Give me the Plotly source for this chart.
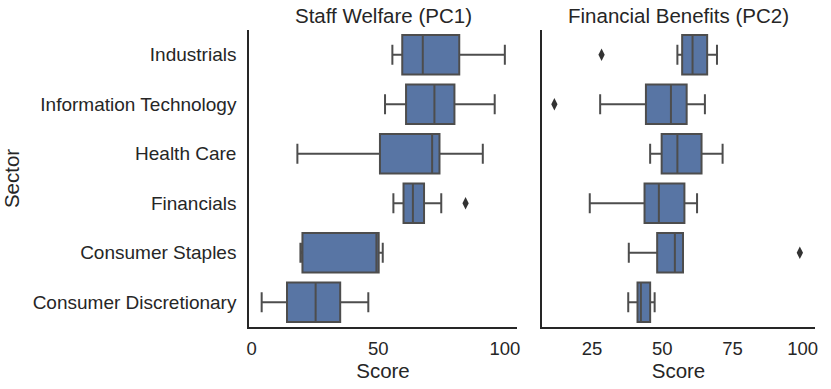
import plotly.graph_objects as go
from plotly.subplots import make_subplots

sectors = ['Industrials', 'Information Technology', 'Health Care', 'Financials',
           'Consumer Staples', 'Consumer Discretionary']

# Staff Welfare (PC1)
pc1_low = [55.6, 52.7, 18.1, 56.0, 19.3, 4.0]
pc1_q1 = [59.5, 61.0, 50.7, 60.0, 20.1, 14.0]
pc1_med = [67.6, 72.2, 71.3, 63.7, 49.3, 25.3]
pc1_q3 = [82.0, 80.1, 74.2, 68.1, 50.2, 35.0]
pc1_high = [100.0, 96.0, 91.3, 74.9, 51.8, 46.1]
pc1_out_sector = ['Financials']
pc1_out_value = [84.5]

# Financial Benefits (PC2)
pc2_low = [55.4, 27.9, 45.7, 24.2, 38.1, 37.9]
pc2_q1 = [57.1, 44.2, 49.8, 43.7, 48.2, 41.2]
pc2_med = [60.8, 53.1, 55.4, 48.8, 54.5, 42.4]
pc2_q3 = [66.0, 58.7, 64.0, 57.9, 57.4, 45.7]
pc2_high = [69.5, 65.2, 71.5, 62.4, 57.4, 47.3]
pc2_out_sector = ['Industrials', 'Information Technology', 'Consumer Staples']
pc2_out_value = [28.4, 11.6, 99.0]

FILL = '#5875a4'
EDGE = '#4d4d4d'
TEXT = '#262626'
FONT = 'Liberation Sans, Arial, sans-serif'

fig = make_subplots(rows=1, cols=2, shared_yaxes=False, horizontal_spacing=0.044)


def add_panel(fig, col, low, q1, med, q3, high, out_s, out_v):
    fig.add_trace(go.Box(
        y=sectors,
        lowerfence=low, q1=q1, median=med, q3=q3, upperfence=high,
        orientation='h',
        width=0.8,
        whiskerwidth=0.5,
        fillcolor=FILL,
        line=dict(color=EDGE, width=2),
        boxpoints=False,
        showlegend=False,
        hoverinfo='skip',
    ), row=1, col=col)
    # outliers drawn on their own, as seaborn's 'd' fliers
    fig.add_trace(go.Scatter(
        x=out_v, y=out_s,
        mode='markers',
        marker=dict(symbol='diamond-tall', size=9, color='#333333'),
        showlegend=False,
        hoverinfo='skip',
    ), row=1, col=col)


add_panel(fig, 1, pc1_low, pc1_q1, pc1_med, pc1_q3, pc1_high, pc1_out_sector, pc1_out_value)
add_panel(fig, 2, pc2_low, pc2_q1, pc2_med, pc2_q3, pc2_high, pc2_out_sector, pc2_out_value)

axis_common = dict(showgrid=False, zeroline=False, showline=True, linecolor=TEXT,
                   linewidth=1.5, ticks='', automargin=False)

fig.update_xaxes(**axis_common, ticklabelstandoff=4, tickfont=dict(size=18.5, color=TEXT),
                 title=dict(text='Score', font=dict(size=20.5, color=TEXT), standoff=0))
fig.update_yaxes(**axis_common, categoryorder='array', categoryarray=sectors,
                 range=[5.5, -0.5], ticklabelstandoff=7,
                 tickfont=dict(size=19, color=TEXT))

fig.update_layout(
    width=831, height=389,
    margin=dict(l=249, r=16, t=30, b=62),
    plot_bgcolor='white',
    paper_bgcolor='white',
    font=dict(family=FONT, color=TEXT),
    xaxis=dict(domain=[0, 0.4735], range=[-1.0, 104.8], tickvals=[0, 50, 100]),
    xaxis2=dict(domain=[0.5177, 1], range=[7.2, 104.4], tickvals=[25, 50, 75, 100]),
    yaxis2=dict(showticklabels=False),
    yaxis=dict(title=dict(text='Sector', font=dict(size=20.5, color=TEXT), standoff=10)),
    annotations=[
        dict(text='Staff Welfare (PC1)', x=0.2368, y=1, xref='paper', yref='paper',
             xanchor='center', yanchor='bottom', yshift=1, showarrow=False,
             font=dict(size=20.5, color=TEXT)),
        dict(text='Financial Benefits (PC2)', x=0.7589, y=1, xref='paper', yref='paper',
             xanchor='center', yanchor='bottom', yshift=1, showarrow=False,
             font=dict(size=20.5, color=TEXT)),
    ],
)

# drop the default page margin so the figure sits at the window's corner
fig.write_html('out.html', config={'displayModeBar': False},
               post_script="document.body.style.margin='0';")
